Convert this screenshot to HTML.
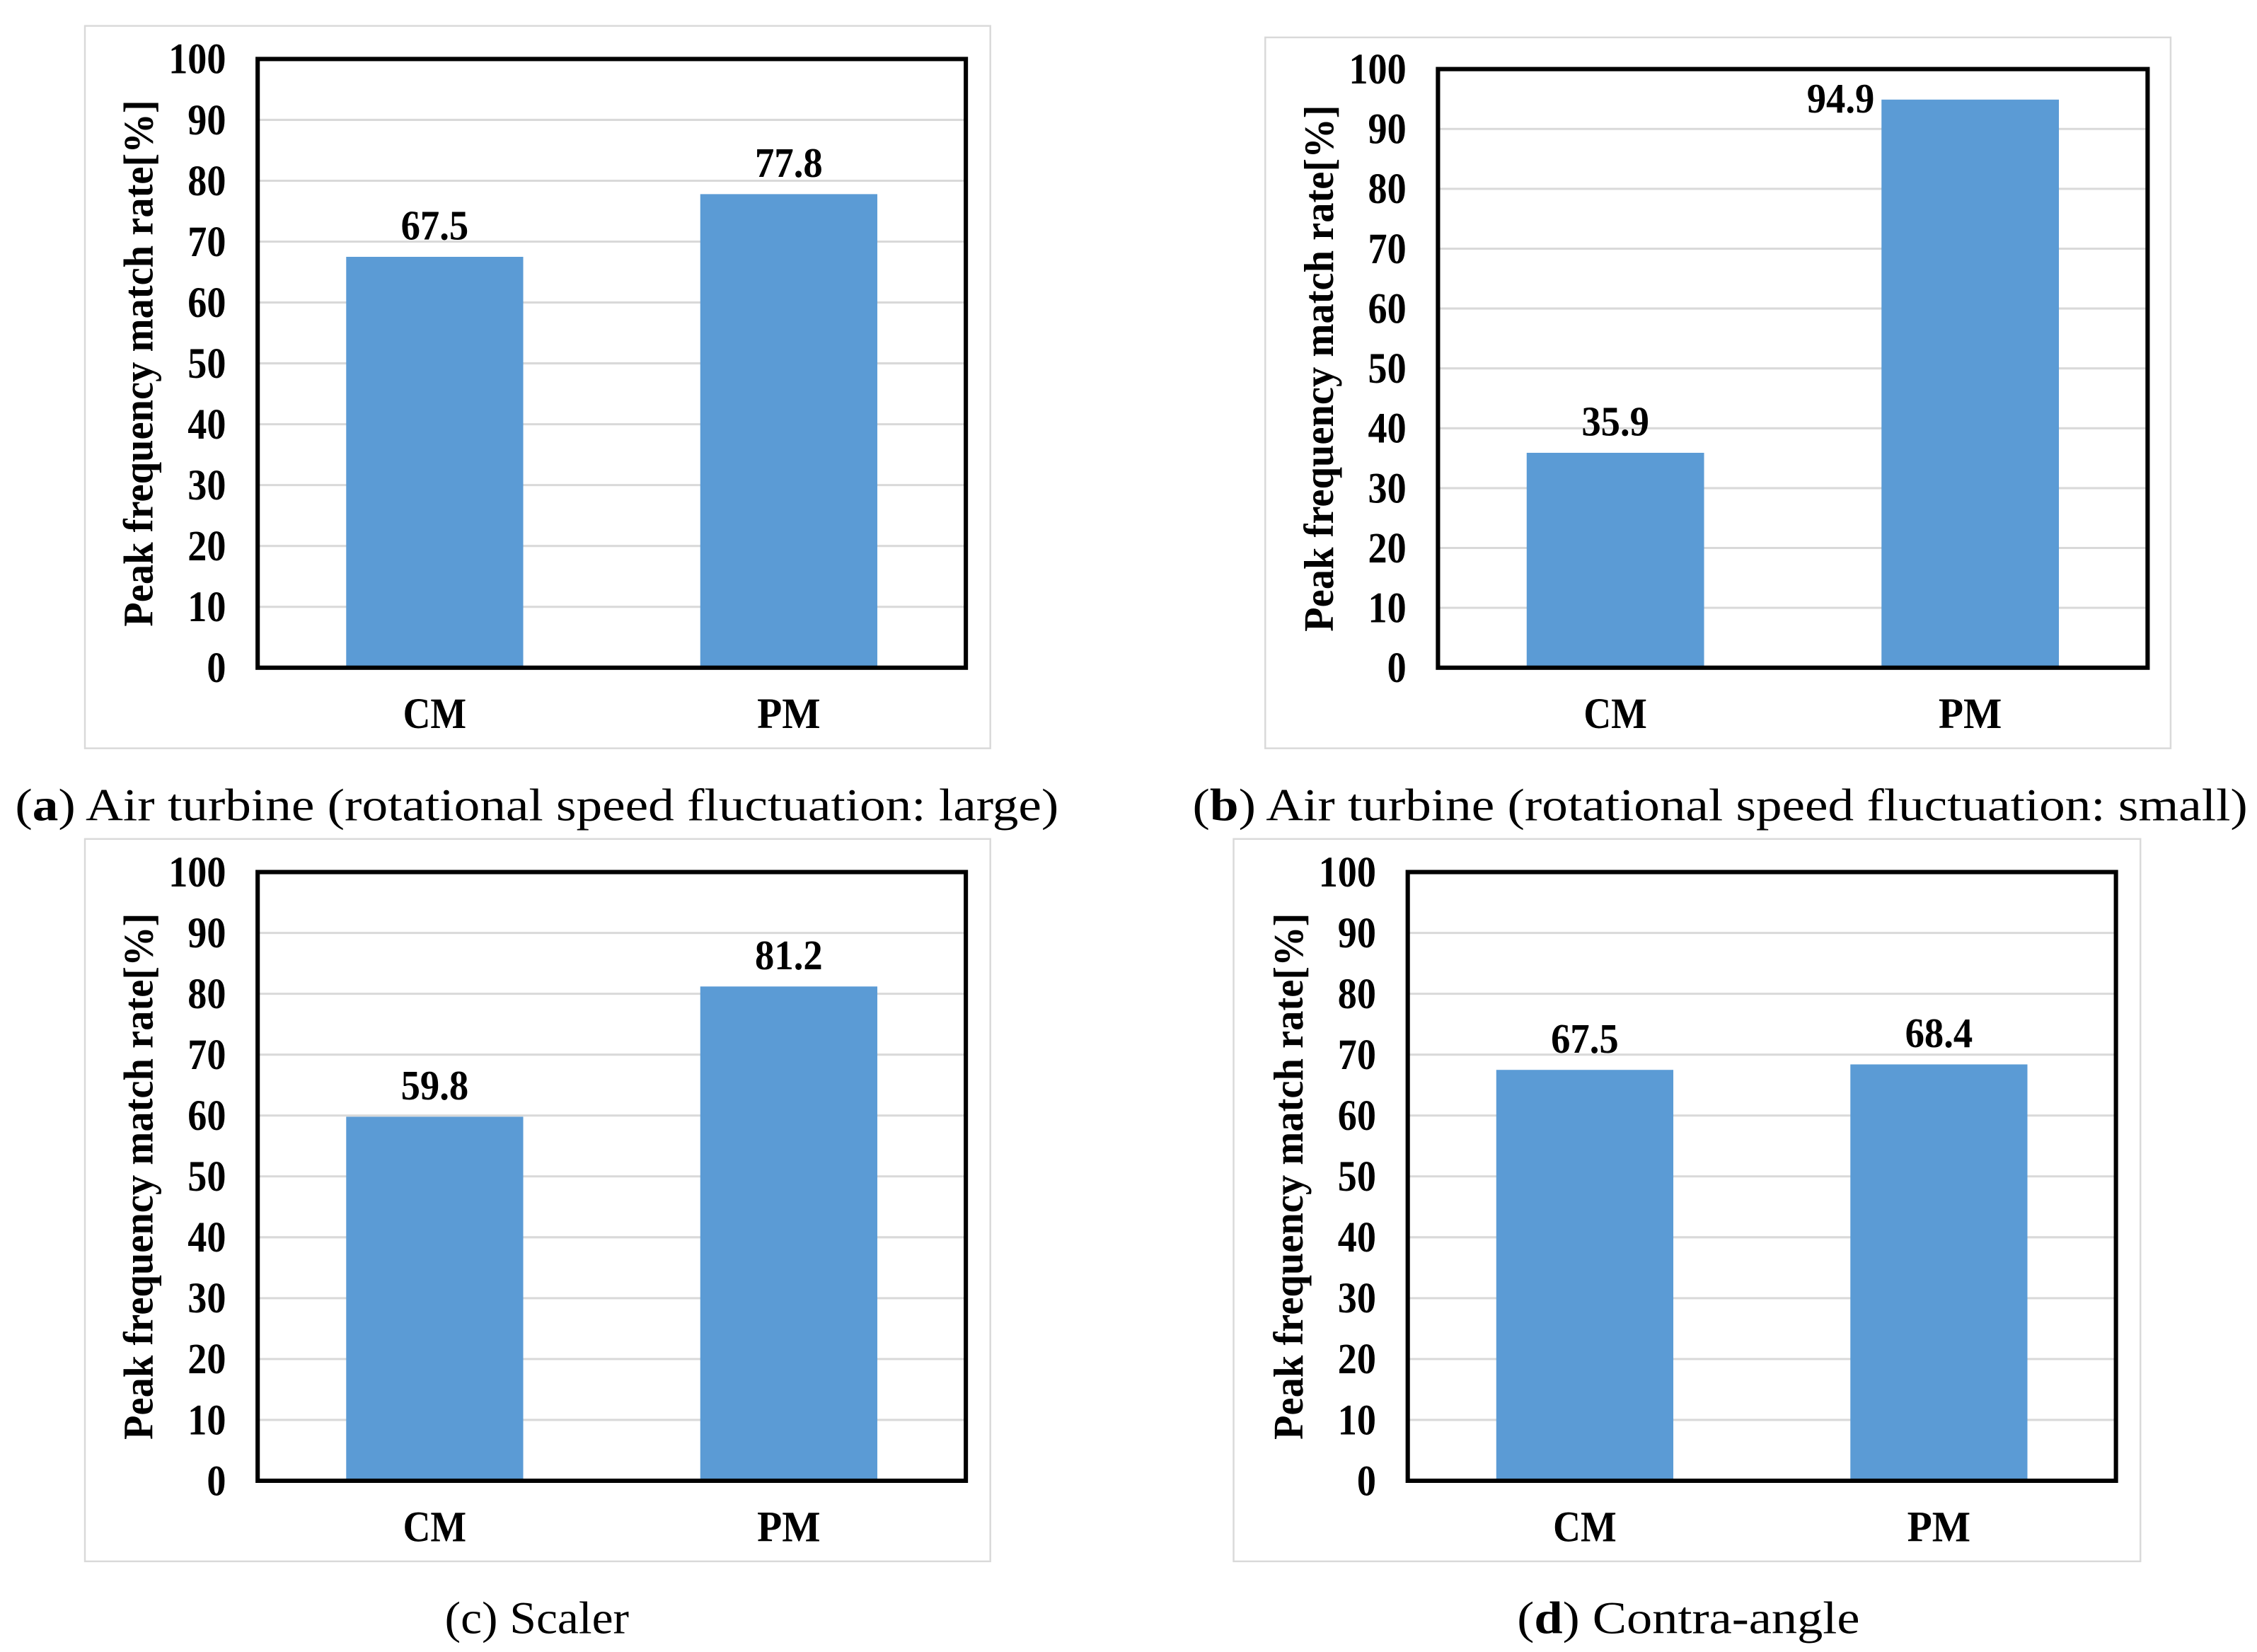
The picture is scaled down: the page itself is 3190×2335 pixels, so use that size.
<!DOCTYPE html>
<html><head><meta charset="utf-8">
<style>
html,body{margin:0;padding:0;background:#fff;}
svg{display:block;}
text{font-family:"Liberation Serif",serif;}
</style></head>
<body>
<svg id="fig" width="3190" height="2335" viewBox="0 0 1568 1148" preserveAspectRatio="none" xmlns="http://www.w3.org/2000/svg"></svg>
<script>
const categories = ["CM", "PM"];
const valuesA = [67.5, 77.8];
const valuesB = [35.9, 94.9];
const valuesC = [59.8, 81.2];
const valuesD = [67.5, 68.4];
const yTicks = [0, 10, 20, 30, 40, 50, 60, 70, 80, 90, 100];
const captionA = ["a", " Air turbine (rotational speed fluctuation: large)"];
const captionB = ["b", " Air turbine (rotational speed fluctuation: small)"];
const captionC = ["c", " Scaler"];
const captionD = ["d", " Contra-angle"];

const NS = "http://www.w3.org/2000/svg";
const svg = document.getElementById("fig");
function mk(tag, attrs, parent) {
  const e = document.createElementNS(NS, tag);
  for (const k in attrs) e.setAttribute(k, attrs[k]);
  (parent || svg).appendChild(e);
  return e;
}

const panels = [
  {id:"a", vals:valuesA, cap:captionA, box:[59,18,688,520], fr:[179,41,671,464], capX:373, capY:570, capW:725, capBold:true, pmShift:[0,0]},
  {id:"b", vals:valuesB, cap:captionB, box:[879,26,1508,520], fr:[999,48,1492,464], capX:1195, capY:570, capW:733, capBold:true, pmShift:[-90,21]},
  {id:"c", vals:valuesC, cap:captionC, box:[59,583,688,1085], fr:[179,606,671,1029], capX:373, capY:1135, capW:128, capBold:false, pmShift:[0,0]},
  {id:"d", vals:valuesD, cap:captionD, box:[857,583,1487,1085], fr:[978,606,1470,1029], capX:1173, capY:1135, capW:238, capBold:true, pmShift:[0,0]}
];

panels.forEach(p => {
  const g = mk("g", {});
  
  
  const [bx0,by0,bx1,by1] = p.box;
  const outer = mk("rect", {x:bx0, y:by0, width:bx1-bx0, height:by1-by0, fill:"#fff", stroke:"#d9d9d9", "stroke-width":1.2}, g);
  
  
  const [x0,y0,x1,y1] = p.fr;
  const yScale = v => y1 - (v/100)*(y1-y0);
  const bandW = (x1-x0)/categories.length;
  const xCenter = i => x0 + bandW*(i+0.5);
  const barW = bandW*0.5;

  yTicks.forEach(t => {
    if (t>0 && t<100) {
      const gl = mk("line", {x1:x0, x2:x1, y1:yScale(t), y2:yScale(t), stroke:"#d9d9d9", "stroke-width":1.5}, g);
      
      
    }
    const s = String(t);
    const tl = mk("text", {x:x0-22, y:yScale(t)+10, "text-anchor":"end", "font-size":30, "font-weight":"bold", fill:"#000", textLength:s.length*13.3, lengthAdjust:"spacingAndGlyphs"}, g);
    tl.textContent = s;
    
    
  });

  p.vals.forEach((v,i) => {
    const b = mk("rect", {x:xCenter(i)-barW/2, y:yScale(v), width:barW, height:y1-yScale(v), fill:"#5b9bd5"}, g);
    
    
    const dx = i===1 ? p.pmShift[0] : 0;
    const dy = i===1 ? p.pmShift[1] : 0;
    const lbl = mk("text", {x:xCenter(i)+dx, y:yScale(v)-12+dy, "text-anchor":"middle", "font-size":29, "font-weight":"bold", fill:"#000", textLength:47, lengthAdjust:"spacingAndGlyphs"}, g);
    lbl.textContent = v.toFixed(1);
    
    
    const cl = mk("text", {x:xCenter(i), y:y1+42, "text-anchor":"middle", "font-size":30, "font-weight":"bold", fill:"#000", textLength:44, lengthAdjust:"spacingAndGlyphs"}, g);
    cl.textContent = categories[i];
    
    
  });

  const fr = mk("rect", {x:x0, y:y0, width:x1-x0, height:y1-y0, fill:"none", stroke:"#000", "stroke-width":3}, g);
  
  

  const tx = x0-73, ty = (y0+y1)/2;
  const at = mk("text", {x:0, y:0, transform:`translate(${tx},${ty}) rotate(-90)`, "text-anchor":"middle", "font-size":29, "font-weight":"bold", fill:"#000", textLength:366, lengthAdjust:"spacingAndGlyphs"}, g);
  at.textContent = "Peak frequency match rate[%]";
  
  

  const cap = mk("text", {x:p.capX, y:p.capY, "text-anchor":"middle", "font-size":32, fill:"#000", textLength:p.capW, lengthAdjust:"spacingAndGlyphs"}, g);
  const s1 = mk("tspan", {}, cap); s1.textContent = "(";
  const s2 = mk("tspan", {"font-weight": p.capBold ? "bold" : "normal"}, cap); s2.textContent = p.cap[0];
  const s3 = mk("tspan", {}, cap); s3.textContent = ")" + p.cap[1];
  
  
});
</script>
</body></html>
